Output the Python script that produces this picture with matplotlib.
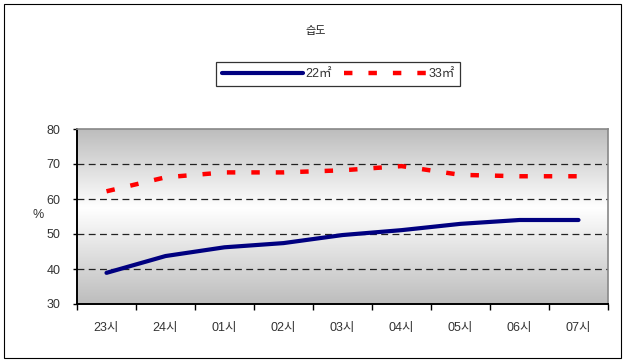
import matplotlib
matplotlib.use("Agg")
import matplotlib.pyplot as plt
import numpy as np
from matplotlib.patches import Rectangle

plt.rcParams['font.family'] = ['Liberation Sans', 'Noto Sans CJK KR', 'DejaVu Sans']

categories = ['23시', '24시', '01시', '02시', '03시', '04시', '05시', '06시', '07시']
s22 = [38.9, 43.7, 46.2, 47.4, 49.7, 51.1, 52.9, 54.0, 54.0]
s33 = [62.2, 66.2, 67.6, 67.6, 68.2, 69.4, 66.9, 66.5, 66.5]
title = '습도'
labels = ['22㎡', '33㎡']

fig = plt.figure(figsize=(6.25, 3.62), dpi=100)
W, H = 625, 362
ax = fig.add_axes([77 / W, 1 - 304 / H, (608 - 77) / W, (304 - 129) / H])

x = np.arange(len(categories))
ax.set_xlim(-0.5, len(categories) - 0.5)
ax.set_ylim(30, 80)

# gradient background
yy = np.linspace(0, 1, 256)
lo = 0.74
g = np.where(yy < 0.55, lo + (1 - lo) * (yy / 0.55), 1 - (1 - lo) * ((yy - 0.55) / 0.45))
img = np.dstack([g, g, g]).reshape(256, 1, 3)
ax.imshow(img, extent=(-0.5, len(categories) - 0.5, 30, 80), aspect='auto', origin='lower', zorder=0)

for yv in [40, 50, 60, 70]:
    ax.axhline(yv, color='#222222', lw=0.9, dashes=(5.5, 3.5), zorder=1)

ax.plot(x, s22, color='#000080', lw=3.0, solid_capstyle='round', zorder=3, label=labels[0])
ax.plot(x, s33, color='#ff0000', lw=3.2, dashes=(1.9, 3.6), solid_capstyle='butt', zorder=3, label=labels[1])

ax.set_xticks(x)
ax.set_xticklabels(categories, fontsize=9, color='#333333')
ax.set_xticks(np.arange(-0.5, len(categories), 1), minor=True)
ax.tick_params(axis='x', which='major', length=0, pad=13)
ax.tick_params(axis='x', which='minor', length=4, width=1, color='black', direction='out')
ax.set_yticks([30, 40, 50, 60, 70, 80])
ax.tick_params(axis='y', labelsize=9, labelcolor='#333333', length=3, width=1, color='black', pad=9)

for side in ['top', 'right']:
    ax.spines[side].set_color('#888888')
    ax.spines[side].set_linewidth(1.2)
for side in ['left', 'bottom']:
    ax.spines[side].set_color('black')
    ax.spines[side].set_linewidth(1.4)

fig.text(38 / W, 1 - 215 / H, '%', fontsize=9, color='#333333', ha='center', va='center')
fig.text(316 / W, 1 - 31 / H, title, fontsize=8, color='#222222', ha='center', va='center')

leg = fig.legend(loc='center', bbox_to_anchor=(338 / W, 1 - 74 / H), ncol=2, frameon=True,
                 fontsize=9, handlelength=6.5, handletextpad=0.2, columnspacing=1.0,
                 borderpad=0.45, fancybox=False, labelcolor='#333333')
leg.get_frame().set_edgecolor('black')
leg.get_frame().set_linewidth(0.9)

# outer border
fig.patches.append(Rectangle((4 / W, 4 / H), 617 / W, 1 - 8 / H, transform=fig.transFigure,
                             fill=False, edgecolor='black', lw=0.8))

fig.savefig('out.png', dpi=100)
